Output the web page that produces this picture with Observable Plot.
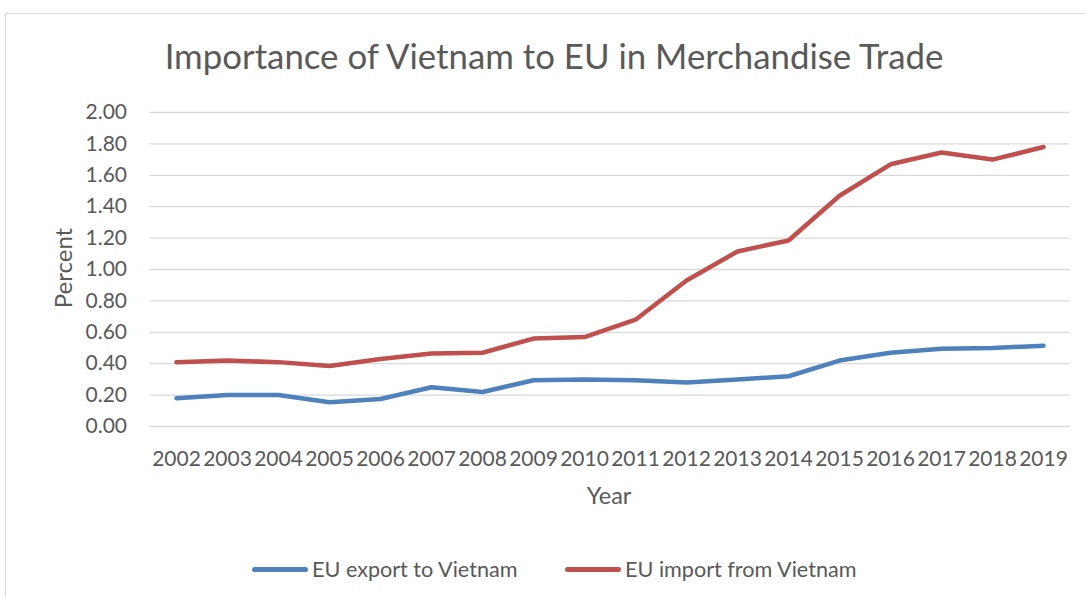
<!DOCTYPE html>
<html><head><meta charset="utf-8">
<script src="https://cdn.jsdelivr.net/npm/d3@7"></script>
<script src="https://cdn.jsdelivr.net/npm/@observablehq/plot@0.6"></script>
<style>
body{margin:0;background:#fff;font-family:Lato, "Open Sans", sans-serif;}
#wrap{position:relative;width:1086px;height:597px;overflow:hidden;background:#fff;}
#frame{position:absolute;left:5px;top:13px;width:1100px;height:700px;border:1px solid #d9d9d9;box-sizing:border-box;}
#title{position:absolute;left:11px;width:1086px;top:35px;text-align:center;font-size:34.8px;color:#595959;white-space:nowrap;}
#chart{position:absolute;left:0;top:0;}
#ylab{position:absolute;left:62px;top:268px;transform:translate(-50%,-50%) rotate(-90deg);font-size:24px;color:#595959;white-space:nowrap;}
#xlab{position:absolute;left:609px;top:495px;transform:translate(-50%,-50%);font-size:23.5px;color:#595959;}
#legend{position:absolute;left:0;top:569px;width:1086px;height:0;}
.item{position:absolute;top:0;transform:translateY(-50%);display:flex;align-items:center;font-size:21.6px;color:#595959;white-space:nowrap;}
.sw{display:inline-block;height:5px;border-radius:3px;margin-right:4px;}
</style></head>
<body>
<div id="wrap">
  <div id="frame"></div>
  <div id="chart"></div>
  <div id="title">Importance of Vietnam to EU in Merchandise Trade</div>
  <div id="ylab">Percent</div>
  <div id="xlab">Year</div>
  <div id="legend"></div>
</div>
<script>
const years = ["2002","2003","2004","2005","2006","2007","2008","2009","2010","2011","2012","2013","2014","2015","2016","2017","2018","2019"];
const exportToVietnam = [0.18,0.20,0.20,0.155,0.175,0.25,0.22,0.295,0.30,0.295,0.28,0.30,0.32,0.42,0.47,0.495,0.50,0.515];
const importFromVietnam = [0.41,0.42,0.41,0.385,0.43,0.465,0.47,0.56,0.57,0.68,0.93,1.115,1.185,1.47,1.67,1.745,1.70,1.78];
const seriesNames = ["EU export to Vietnam","EU import from Vietnam"];
const seriesColors = ["#4F81BD","#C0504D"];
const yTicks = [0,0.2,0.4,0.6,0.8,1.0,1.2,1.4,1.6,1.8,2.0];

const rows = [];
years.forEach((y,i)=>{
  rows.push({year:y, value:exportToVietnam[i], series:seriesNames[0]});
  rows.push({year:y, value:importFromVietnam[i], series:seriesNames[1]});
});

const chart = Plot.plot({
  width:1086,
  height:520,
  marginLeft:149.5,
  marginRight:16.5,
  marginTop:112,
  marginBottom:94,
  style:{fontFamily:"Lato, 'Open Sans', sans-serif", fontSize:"21px", color:"#595959", background:"transparent", overflow:"visible"},
  x:{type:"point", domain:years, padding:0.5, label:null},
  y:{domain:[0,2], label:null},
  color:{domain:seriesNames, range:seriesColors},
  marks:[
    Plot.gridY(yTicks,{stroke:"#d9d9d9", strokeOpacity:1, strokeWidth:1.3}),
    Plot.axisX({tickSize:0, tickPadding:25, fill:"#595959", label:null}),
    Plot.axisY({ticks:yTicks, tickSize:0, tickPadding:23, tickFormat:d3.format(".2f"), fill:"#595959", label:null}),
    Plot.line(rows,{x:"year", y:"value", z:"series", stroke:"series", strokeWidth:4.5, strokeLinecap:"round", strokeLinejoin:"round"})
  ]
});
document.getElementById("chart").appendChild(chart);

const legend = document.getElementById("legend");
const legendPos = [252, 565];
seriesNames.forEach((n,i)=>{
  const d = document.createElement("div");
  d.className="item";
  d.style.left = legendPos[i]+"px";
  d.innerHTML = `<span class="sw" style="width:56px;background:${seriesColors[i]}"></span>${n}`;
  legend.appendChild(d);
});
</script>
</body></html>
